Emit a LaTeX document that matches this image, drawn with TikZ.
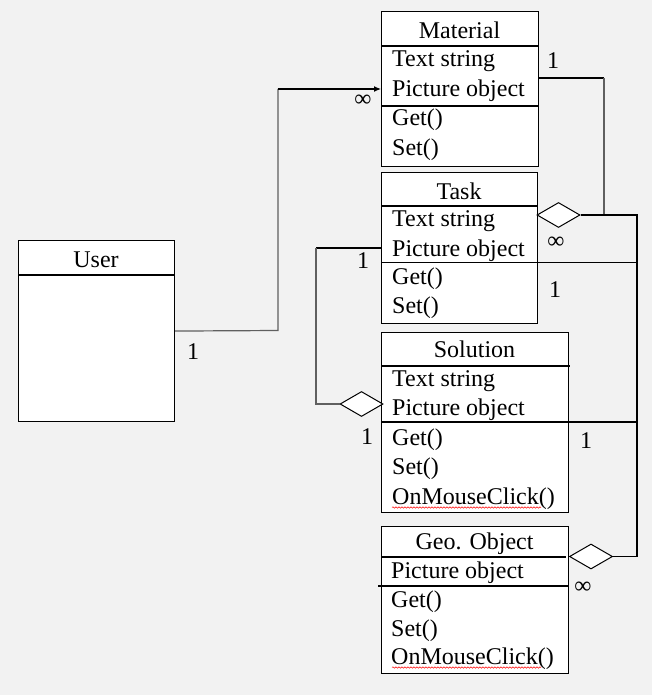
\documentclass[tikz,border=0pt]{standalone}
\usepackage{fontspec}
\setmainfont{Liberation Serif}
\usetikzlibrary{arrows.meta,shapes.geometric,decorations.pathmorphing}
\definecolor{bg}{HTML}{F2F2F2}
\definecolor{lg}{HTML}{606060}
\tikzset{
 box/.style={draw, fill=white, line width=1.1pt, inner sep=0pt, anchor=north west},
 div/.style={line width=1.1pt},
 attr/.style={anchor=base west, inner sep=0pt, font=\fontsize{24}{29}\selectfont},
 hdr/.style={anchor=base, inner sep=0pt, font=\fontsize{24}{29}\selectfont},
 lbl/.style={anchor=base, inner sep=0pt, font=\fontsize{24}{29}\selectfont},
 inf/.style={anchor=center, inner sep=0pt, font=\fontsize{24}{29}\selectfont},
 conn/.style={line width=1.2pt, draw=black},
 conng/.style={line width=1.2pt, draw=lg},
 agg/.style={diamond, draw, fill=white, line width=1pt, inner sep=0pt, minimum width=43pt, minimum height=25pt},
 wavy/.style={draw=red, line width=0.5pt, decorate, decoration={snake, amplitude=0.7pt, segment length=3pt}}
}
\begin{document}
\begin{tikzpicture}[x=1pt,y=-1pt]
\fill[bg] (0,0) rectangle (652,695);
\useasboundingbox (0,0) rectangle (652,695);

% User
\node[box, minimum width=156pt, minimum height=181pt] (user) at (18,240) {};
\draw[div] (18,275) -- (174,275);
\node[hdr] (userH) at (96,267) {User};

% Material
\node[box, minimum width=157pt, minimum height=155pt] (mat) at (381,11) {};
\draw[div] (381,46) -- (538,46);
\draw[div] (381,106) -- (538,106);
\node[hdr] (matH) at (459.5,39) {Material};
\node[attr] (mat1) at (392,67) {Text string};
\node[attr] (mat2) at (392,97) {Picture object};
\node[attr] (mat3) at (392,126) {Get()};
\node[attr] (mat4) at (392,156) {Set()};

% Task
\node[box, minimum width=156pt, minimum height=151pt] (task) at (381,172) {};
\draw[div] (381,206) -- (537,206);
\draw[div] (381,262.5) -- (537,262.5);
\node[hdr] (taskH) at (459,199) {Task};
\node[attr] (task1) at (392,226) {Text string};
\node[attr] (task2) at (392,256) {Picture object};
\node[attr] (task3) at (392,284) {Get()};
\node[attr] (task4) at (392,313) {Set()};

% Solution
\node[box, minimum width=187pt, minimum height=180pt] (sol) at (381,332) {};
\draw[div] (381,366) -- (570,366);
\draw[div] (381,422) -- (568,422);
\node[hdr] (solH) at (474.5,357) {Solution};
\node[attr] (sol1) at (392,386) {Text string};
\node[attr] (sol2) at (392,415) {Picture object};
\node[attr] (sol3) at (392,445) {Get()};
\node[attr] (sol4) at (392,474) {Set()};
\node[attr] (sol5) at (392,504) {OnMouseClick()};
\draw[wavy] (392,507.5) -- (541,507.5);

% Geo. Object
\node[box, minimum width=187pt, minimum height=147pt] (geo) at (381,526) {};
\draw[div] (381,557) -- (566,557);
\draw[div] (378,586) -- (568,586);
\node[hdr] (geoH) at (474.5,549) {Geo. Object};
\node[attr] (geo1) at (391,578) {Picture object};
\node[attr] (geo2) at (391,607) {Get()};
\node[attr] (geo3) at (391,636) {Set()};
\node[attr] (geo4) at (391,664) {OnMouseClick()};
\draw[wavy] (392,667.5) -- (541,667.5);

% anchor points
\coordinate (matin) at (381,89);
\coordinate (matout) at (538,78);
\coordinate (taskin) at (381,248);
\coordinate (taskout) at (537,262.5);
\coordinate (solout) at (568,422);
\coordinate (j1) at (604,215);

% aggregation diamonds
\node[agg] (d1) at (558.5,215) {};
\node[agg] (d3) at (361.5,404) {};
\node[agg] (d4) at (591,556.5) {};

% connectors
\draw[conng] (user.east) -- (278,330.5) -- (278,89);
\draw[conn,-{Latex[length=7pt,width=6pt]}] (278,89) -- (matin);
\draw[conn] (matout) -- (604,78);
\draw[conng] (604,78) -- (j1);
\draw[conn] (d1.east) -- (637,215) -- (637,556.5) -- (d4.east);
\draw[conn] (taskout) -- (637,262.5);
\draw[conn] (solout) -- (637,422);
\draw[conn] (taskin) -- (316,248);
\draw[conng] (316,248) -- (316,404) -- (d3.west);

% multiplicities
\node[lbl] (l1) at (193,359) {1};
\node[inf] (l2) at (363,101) {∞};
\node[lbl] (l3) at (553,69) {1};
\node[inf] (l4) at (556,243) {∞};
\node[lbl] (l5) at (555,297) {1};
\node[lbl] (l6) at (363,268) {1};
\node[lbl] (l7) at (367,444) {1};
\node[lbl] (l8) at (586,448) {1};
\node[inf] (l9) at (583,588) {∞};
\end{tikzpicture}
\end{document}
